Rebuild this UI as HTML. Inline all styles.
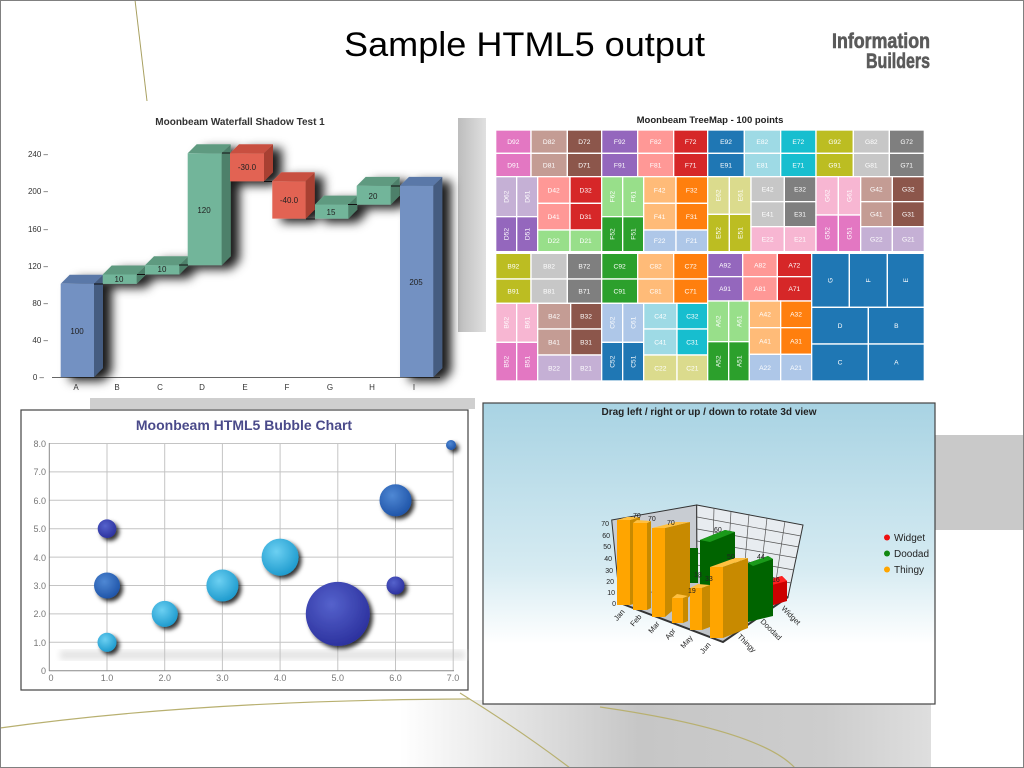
<!DOCTYPE html>
<html><head><meta charset="utf-8"><style>
html,body{margin:0;padding:0;background:#fff}
#s{position:relative;width:1024px;height:768px;overflow:hidden;font-family:"Liberation Sans",sans-serif;background:#fff}
svg{position:absolute;left:0;top:0}
</style></head><body><div id="s">
<svg width="1024" height="768" viewBox="0 0 1024 768">
<defs>
<linearGradient id="bot" x1="0" y1="0" x2="1" y2="0"><stop offset="0" stop-color="#fff"/><stop offset="0.45" stop-color="#c6c6c6"/><stop offset="0.8" stop-color="#cdcdcd"/><stop offset="1" stop-color="#dedede"/></linearGradient>
<linearGradient id="vg" x1="0" y1="0" x2="1" y2="0"><stop offset="0" stop-color="#bdbdbd"/><stop offset="1" stop-color="#e0e0e0"/></linearGradient>
<linearGradient id="sky" x1="0" y1="0" x2="0" y2="1"><stop offset="0" stop-color="#a8d3e3"/><stop offset="0.55" stop-color="#d6ebf2"/><stop offset="0.8" stop-color="#fff"/></linearGradient>
<filter id="sh" x="-40%" y="-40%" width="200%" height="200%"><feDropShadow dx="9" dy="4" stdDeviation="5" flood-color="#000" flood-opacity="0.9"/></filter>
<filter id="bs" x="-40%" y="-40%" width="200%" height="200%"><feDropShadow dx="3" dy="3" stdDeviation="2" flood-color="#000" flood-opacity="0.8"/></filter>
<filter id="bl"><feGaussianBlur stdDeviation="3"/></filter>
<radialGradient id="gl" cx="0.4" cy="0.35" r="0.7"><stop offset="0" stop-color="#6cd0f2"/><stop offset="1" stop-color="#1a98cc"/></radialGradient>
<radialGradient id="gm" cx="0.4" cy="0.35" r="0.7"><stop offset="0" stop-color="#4f88d4"/><stop offset="1" stop-color="#1d52a6"/></radialGradient>
<radialGradient id="gd" cx="0.4" cy="0.35" r="0.7"><stop offset="0" stop-color="#5562cc"/><stop offset="1" stop-color="#2a2f9c"/></radialGradient>
</defs>
<rect x="400" y="700" width="531" height="68" fill="url(#bot)"/>
<rect x="458" y="118" width="28" height="214" fill="url(#vg)"/>
<rect x="90" y="398" width="385" height="11" fill="#cfcfcf"/>
<rect x="935" y="435" width="89" height="95" fill="#c9c9c9"/>
<path d="M135 0 L147 101" stroke="#a8a060" stroke-width="1" fill="none"/>
<path d="M0 728 Q200 700 470 699" stroke="#b8b070" stroke-width="1.2" fill="none"/>
<path d="M460 693 Q520 730 570 768" stroke="#b8b070" stroke-width="1.2" fill="none"/>
<path d="M600 707 Q760 730 795 768" stroke="#b8b070" stroke-width="1.2" fill="none"/>
<rect x="0.5" y="0.5" width="1023" height="767" fill="none" stroke="#808080"/>
<text x="344" y="56" font-size="34" textLength="361" lengthAdjust="spacingAndGlyphs" fill="#000">Sample HTML5 output</text>
<text x="930" y="48" font-size="21" font-weight="bold" fill="#5a5a5a" stroke="#5a5a5a" stroke-width="0.6" text-anchor="end" textLength="98" lengthAdjust="spacingAndGlyphs">Information</text>
<text x="930" y="68" font-size="21" font-weight="bold" fill="#5a5a5a" stroke="#5a5a5a" stroke-width="0.6" text-anchor="end" textLength="64" lengthAdjust="spacingAndGlyphs">Builders</text>

<text x="240" y="125" font-size="10" font-weight="bold" text-anchor="middle" fill="#333">Moonbeam Waterfall Shadow Test 1</text>
<g font-size="8" fill="#333" text-anchor="end">
<text x="44" y="380">0 –</text><text x="48" y="343">40 –</text><text x="48" y="306">80 –</text><text x="48" y="269">120 –</text><text x="48" y="232">160 –</text><text x="48" y="194">200 –</text><text x="48" y="157">240 –</text>
</g>
<line x1="52" y1="377.5" x2="440" y2="377.5" stroke="#666"/>
<g filter="url(#sh)">
<polygon points="60.7,283.8 69.7,274.8 103,274.8 94,283.8" fill="#5a78a8"/><polygon points="94,283.8 103,274.8 103,368 94,377" fill="#445c80"/><rect x="60.7" y="283.8" width="33.3" height="93.2" fill="#7391c2"/>
<polygon points="102.7,274.5 111.7,265.5 145.7,265.5 136.7,274.5" fill="#5e9a80"/><polygon points="136.7,274.5 145.7,265.5 145.7,274.8 136.7,283.8" fill="#4e806a"/><rect x="102.7" y="274.5" width="34" height="9.3" fill="#72b59a"/>
<polygon points="145,265.2 154,256.2 188.3,256.2 179.3,265.2" fill="#5e9a80"/><polygon points="179.3,265.2 188.3,256.2 188.3,265.5 179.3,274.5" fill="#4e806a"/><rect x="145" y="265.2" width="34.3" height="9.3" fill="#72b59a"/>
<polygon points="187.7,153.3 196.7,144.3 230.7,144.3 221.7,153.3" fill="#5e9a80"/><polygon points="221.7,153.3 230.7,144.3 230.7,256.2 221.7,265.2" fill="#4e806a"/><rect x="187.7" y="153.3" width="34" height="111.9" fill="#72b59a"/>
<polygon points="230,153.3 239,144.3 273,144.3 264,153.3" fill="#c85040"/><polygon points="264,153.3 273,144.3 273,172.3 264,181.3" fill="#a84030"/><rect x="230" y="153.3" width="34" height="28" fill="#e26452"/>
<polygon points="272.3,181.3 281.3,172.3 314.7,172.3 305.7,181.3" fill="#c85040"/><polygon points="305.7,181.3 314.7,172.3 314.7,209.6 305.7,218.6" fill="#a84030"/><rect x="272.3" y="181.3" width="33.4" height="37.3" fill="#e26452"/>
<polygon points="315,204.6 324,195.6 357.3,195.6 348.3,204.6" fill="#5e9a80"/><polygon points="348.3,204.6 357.3,195.6 357.3,209.6 348.3,218.6" fill="#4e806a"/><rect x="315" y="204.6" width="33.3" height="14" fill="#72b59a"/>
<polygon points="356.7,185.9 365.7,176.9 399.7,176.9 390.7,185.9" fill="#5e9a80"/><polygon points="390.7,185.9 399.7,176.9 399.7,195.6 390.7,204.6" fill="#4e806a"/><rect x="356.7" y="185.9" width="34" height="18.7" fill="#72b59a"/>
<polygon points="400,185.9 409,176.9 442.3,176.9 433.3,185.9" fill="#5a78a8"/><polygon points="433.3,185.9 442.3,176.9 442.3,368 433.3,377" fill="#445c80"/><rect x="400" y="185.9" width="33.3" height="191.1" fill="#7391c2"/>
</g>
<g stroke="#111" stroke-width="1">
<line x1="94" y1="284" x2="103" y2="284"/><line x1="137" y1="274.5" x2="145" y2="274.5"/><line x1="179" y1="265" x2="188" y2="265"/><line x1="222" y1="153" x2="230" y2="153"/><line x1="264" y1="181.5" x2="272" y2="181.5"/><line x1="306" y1="219" x2="315" y2="219"/><line x1="348" y1="204.5" x2="357" y2="204.5"/><line x1="391" y1="186" x2="400" y2="186"/>
</g>
<g font-size="8" fill="#222" text-anchor="middle">
<text x="77" y="334">100</text><text x="119" y="282">10</text><text x="162" y="272">10</text><text x="204" y="213">120</text><text x="247" y="170">-30.0</text><text x="289" y="203">-40.0</text><text x="331" y="215">15</text><text x="373" y="199">20</text><text x="416" y="285">205</text>
</g>
<g font-size="8" fill="#333" text-anchor="middle">
<text x="76" y="390">A</text><text x="117" y="390">B</text><text x="160" y="390">C</text><text x="202" y="390">D</text><text x="245" y="390">E</text><text x="287" y="390">F</text><text x="330" y="390">G</text><text x="372" y="390">H</text><text x="414" y="390">I</text>
</g>

<rect x="21" y="410" width="447" height="280" fill="#fff" stroke="#444" stroke-width="1.2"/>
<text x="244" y="430" font-size="14" font-weight="bold" fill="#4a4a8a" text-anchor="middle">Moonbeam HTML5 Bubble Chart</text>
<rect x="60" y="650" width="405" height="10" fill="#e6e6e6" filter="url(#bl)"/>
<g stroke="#c4c4c4" stroke-width="1">
<line x1="107" y1="443" x2="107" y2="671"/><line x1="164.7" y1="443" x2="164.7" y2="671"/><line x1="222.4" y1="443" x2="222.4" y2="671"/><line x1="280.1" y1="443" x2="280.1" y2="671"/><line x1="337.8" y1="443" x2="337.8" y2="671"/><line x1="395.5" y1="443" x2="395.5" y2="671"/><line x1="453.2" y1="443" x2="453.2" y2="671"/>
<line x1="49" y1="443.5" x2="453" y2="443.5"/><line x1="49" y1="471.9" x2="453" y2="471.9"/><line x1="49" y1="500.3" x2="453" y2="500.3"/><line x1="49" y1="528.7" x2="453" y2="528.7"/><line x1="49" y1="557.1" x2="453" y2="557.1"/><line x1="49" y1="585.5" x2="453" y2="585.5"/><line x1="49" y1="613.9" x2="453" y2="613.9"/><line x1="49" y1="642.3" x2="453" y2="642.3"/>
</g>
<line x1="49.3" y1="443" x2="49.3" y2="671" stroke="#888"/><line x1="49" y1="670.7" x2="454" y2="670.7" stroke="#888"/>
<g font-size="9" fill="#777" text-anchor="end">
<text x="46" y="447">8.0</text><text x="46" y="475">7.0</text><text x="46" y="504">6.0</text><text x="46" y="532">5.0</text><text x="46" y="561">4.0</text><text x="46" y="589">3.0</text><text x="46" y="617">2.0</text><text x="46" y="646">1.0</text><text x="46" y="674">0</text>
</g>
<g font-size="9" fill="#777" text-anchor="middle">
<text x="51" y="681">0</text><text x="107" y="681">1.0</text><text x="164.7" y="681">2.0</text><text x="222.4" y="681">3.0</text><text x="280.1" y="681">4.0</text><text x="337.8" y="681">5.0</text><text x="395.5" y="681">6.0</text><text x="453" y="681">7.0</text>
</g>
<g filter="url(#bs)">
<circle cx="107" cy="528.7" r="9.3" fill="url(#gd)"/>
<circle cx="107" cy="585.5" r="13" fill="url(#gm)"/>
<circle cx="107" cy="642.3" r="9.5" fill="url(#gl)"/>
<circle cx="164.7" cy="613.9" r="13" fill="url(#gl)"/>
<circle cx="222.4" cy="585.5" r="16" fill="url(#gl)"/>
<circle cx="280.1" cy="557.1" r="18.5" fill="url(#gl)"/>
<circle cx="337.8" cy="613.9" r="32" fill="url(#gd)"/>
<circle cx="395.5" cy="500.3" r="16" fill="url(#gm)"/>
<circle cx="395.5" cy="585.5" r="9" fill="url(#gd)"/>
<circle cx="451" cy="445" r="5" fill="url(#gm)"/>
</g>

<rect x="483" y="403" width="452" height="301" fill="url(#sky)" stroke="#444" stroke-width="1.2"/>
<text x="709" y="415" font-size="10" font-weight="bold" fill="#222" text-anchor="middle">Drag left / right or up / down to rotate 3d view</text>
<polygon points="611.7,520 696.7,505 697,577 620,603" fill="#c8ccd2" stroke="#333"/>
<polygon points="696.7,505 803,525 788,597 697,577" fill="#e8ecf0" stroke="#333"/>
<g stroke="#555" stroke-width="0.7">
<line x1="697" y1="517" x2="801" y2="536"/><line x1="697" y1="529" x2="799" y2="547"/><line x1="697" y1="541" x2="797" y2="558"/><line x1="697" y1="553" x2="794" y2="570"/><line x1="697" y1="565" x2="791" y2="583"/>
<line x1="714" y1="508" x2="712" y2="580"/><line x1="731" y1="511" x2="727" y2="583"/><line x1="749" y1="514" x2="743" y2="586"/><line x1="767" y1="518" x2="759" y2="590"/><line x1="785" y1="521" x2="774" y2="594"/>
</g>
<polygon points="620,603 697,577 788,597 723,642" fill="#c0c4c8"/>
<polyline points="620,603 723,642 788,597" fill="none" stroke="#333" stroke-width="2"/>
<polygon points="690,548 698,548 698,583 690,583" fill="#006400"/>
<polygon points="700,540 725,530 735,532 735,583 700,590" fill="#006400"/><polygon points="700,540 725,530 735,532 710,542" fill="#1a9a1a"/>
<polygon points="767,580 782,576 787,581 787,601 767,607" fill="#cc0000"/><polygon points="767,580 782,576 787,581 772,585" fill="#ff2020"/>
<polygon points="748,563 768,556 773,559 773,616 748,622" fill="#006400"/><polygon points="748,563 768,556 773,559 753,566" fill="#1a9a1a"/>
<g>
<polygon points="630,520 640,517 640,602 630,605" fill="#c88a00"/><polygon points="617,520 627,517 640,517 630,520" fill="#ffc040"/><rect x="617" y="520" width="13" height="85" fill="#ffa500"/>
<polygon points="647,523 651,521 651,608 647,610" fill="#c88a00"/><polygon points="633,523 637,520 651,521 647,523" fill="#ffc040"/><rect x="633" y="523" width="14" height="87" fill="#ffa500"/>
<polygon points="665,528 690,522 690,596 665,617" fill="#c88a00"/><polygon points="652,528 676,522 690,522 665,528" fill="#ffc040"/><rect x="652" y="528" width="13" height="89" fill="#ffa500"/>
<polygon points="683,598 688,596 688,621 683,623" fill="#c88a00"/><polygon points="672,598 677,594 688,596 683,598" fill="#ffc040"/><rect x="672" y="598" width="11" height="25" fill="#ffa500"/>
<polygon points="702,588 710,585 710,627 702,630" fill="#c88a00"/><polygon points="690,588 698,584 710,585 702,588" fill="#ffc040"/><rect x="690" y="588" width="12" height="42" fill="#ffa500"/>
<polygon points="723,567 748,558 748,628 723,638" fill="#c88a00"/><polygon points="710,567 735,558 748,558 723,567" fill="#ffc040"/><rect x="710" y="567" width="13" height="71" fill="#ffa500"/>
</g>
<g font-size="7" fill="#222">
<text x="633" y="518">70</text><text x="648" y="521">70</text><text x="667" y="525">70</text><text x="714" y="532">60</text><text x="688" y="593">19</text><text x="705" y="581">33</text><text x="694" y="577">18</text><text x="727" y="559">50</text><text x="757" y="559">44</text><text x="772" y="582">16</text>
</g>
<g font-size="7" fill="#222" text-anchor="end">
<text x="609" y="526">70</text><text x="610" y="538">60</text><text x="611" y="549">50</text><text x="612" y="561">40</text><text x="613" y="573">30</text><text x="614" y="584">20</text><text x="615" y="595">10</text><text x="616" y="606">0</text>
</g>
<g font-size="7.5" fill="#222" text-anchor="end">
<text transform="translate(625,612) rotate(-50)">Jan</text><text transform="translate(642,617) rotate(-50)">Feb</text><text transform="translate(660,624) rotate(-50)">Mar</text><text transform="translate(676,631) rotate(-50)">Apr</text><text transform="translate(693,638) rotate(-50)">May</text><text transform="translate(711,645) rotate(-50)">Jun</text>
</g>
<g font-size="7.5" fill="#222">
<text transform="translate(737,637) rotate(45)">Thingy</text><text transform="translate(760,622) rotate(45)">Doodad</text><text transform="translate(781,609) rotate(45)">Widget</text>
</g>
<circle cx="887" cy="537.5" r="3" fill="#ee1111"/><circle cx="887" cy="553.5" r="3" fill="#118811"/><circle cx="887" cy="569.5" r="3" fill="#ffa500"/>
<g font-size="10" fill="#222"><text x="894" y="541">Widget</text><text x="894" y="557">Doodad</text><text x="894" y="573">Thingy</text></g>

<text x="710" y="123" font-size="9.5" font-weight="bold" fill="#222" text-anchor="middle">Moonbeam TreeMap - 100 points</text>
<svg x="485" y="105" width="450" height="285" viewBox="0 0 1350 855">
<g stroke="#fff" stroke-width="4">
<rect x="32" y="75" width="106" height="70" fill="#e377c2"/><rect x="138" y="75" width="109" height="70" fill="#c49c94"/><rect x="247" y="75" width="103" height="70" fill="#8c564b"/><rect x="350" y="75" width="108" height="70" fill="#9467bd"/><rect x="458" y="75" width="108" height="70" fill="#ff9896"/><rect x="566" y="75" width="102" height="70" fill="#d62728"/><rect x="668" y="75" width="110" height="70" fill="#1f77b4"/><rect x="778" y="75" width="109" height="70" fill="#9edae5"/><rect x="887" y="75" width="106" height="70" fill="#17becf"/><rect x="993" y="75" width="112" height="70" fill="#bcbd22"/><rect x="1105" y="75" width="108" height="70" fill="#c7c7c7"/><rect x="1213" y="75" width="105" height="70" fill="#7f7f7f"/>
<rect x="32" y="145" width="106" height="70" fill="#e377c2"/><rect x="138" y="145" width="109" height="70" fill="#c49c94"/><rect x="247" y="145" width="103" height="70" fill="#8c564b"/><rect x="350" y="145" width="108" height="70" fill="#9467bd"/><rect x="458" y="145" width="108" height="70" fill="#ff9896"/><rect x="566" y="145" width="102" height="70" fill="#d62728"/><rect x="668" y="145" width="110" height="70" fill="#1f77b4"/><rect x="778" y="145" width="109" height="70" fill="#9edae5"/><rect x="887" y="145" width="106" height="70" fill="#17becf"/><rect x="993" y="145" width="112" height="70" fill="#bcbd22"/><rect x="1105" y="145" width="108" height="70" fill="#c7c7c7"/><rect x="1213" y="145" width="105" height="70" fill="#7f7f7f"/>
<rect x="32" y="215" width="63" height="120" fill="#c5b0d5"/><rect x="95" y="215" width="63" height="120" fill="#c5b0d5"/><rect x="32" y="335" width="63" height="105" fill="#9467bd"/><rect x="95" y="335" width="63" height="105" fill="#9467bd"/>
<rect x="158" y="215" width="97" height="80" fill="#ff9896"/><rect x="255" y="215" width="95" height="80" fill="#d62728"/><rect x="158" y="295" width="97" height="80" fill="#ff9896"/><rect x="255" y="295" width="95" height="80" fill="#d62728"/><rect x="158" y="375" width="97" height="65" fill="#98df8a"/><rect x="255" y="375" width="95" height="65" fill="#98df8a"/>
<rect x="350" y="215" width="63" height="120" fill="#98df8a"/><rect x="413" y="215" width="63" height="120" fill="#98df8a"/><rect x="350" y="335" width="63" height="105" fill="#2ca02c"/><rect x="413" y="335" width="63" height="105" fill="#2ca02c"/>
<rect x="476" y="215" width="97" height="80" fill="#ffbb78"/><rect x="573" y="215" width="95" height="80" fill="#ff7f0e"/><rect x="476" y="295" width="97" height="80" fill="#ffbb78"/><rect x="573" y="295" width="95" height="80" fill="#ff7f0e"/><rect x="476" y="375" width="97" height="65" fill="#aec7e8"/><rect x="573" y="375" width="95" height="65" fill="#aec7e8"/>
<rect x="668" y="215" width="65" height="113" fill="#dbdb8d"/><rect x="733" y="215" width="65" height="113" fill="#dbdb8d"/><rect x="668" y="328" width="65" height="112" fill="#bcbd22"/><rect x="733" y="328" width="65" height="112" fill="#bcbd22"/>
<rect x="798" y="215" width="100" height="75" fill="#c7c7c7"/><rect x="898" y="215" width="95" height="75" fill="#7f7f7f"/><rect x="798" y="290" width="100" height="75" fill="#c7c7c7"/><rect x="898" y="290" width="95" height="75" fill="#7f7f7f"/><rect x="798" y="365" width="100" height="75" fill="#f7b6d2"/><rect x="898" y="365" width="95" height="75" fill="#f7b6d2"/>
<rect x="993" y="215" width="67" height="115" fill="#f7b6d2"/><rect x="1060" y="215" width="67" height="115" fill="#f7b6d2"/><rect x="993" y="330" width="67" height="110" fill="#e377c2"/><rect x="1060" y="330" width="67" height="110" fill="#e377c2"/>
<rect x="1127" y="215" width="95" height="75" fill="#c49c94"/><rect x="1222" y="215" width="96" height="75" fill="#8c564b"/><rect x="1127" y="290" width="95" height="75" fill="#c49c94"/><rect x="1222" y="290" width="96" height="75" fill="#8c564b"/><rect x="1127" y="365" width="95" height="75" fill="#c5b0d5"/><rect x="1222" y="365" width="96" height="75" fill="#c5b0d5"/>
<rect x="32" y="445" width="106" height="77" fill="#bcbd22"/><rect x="138" y="445" width="109" height="77" fill="#c7c7c7"/><rect x="247" y="445" width="103" height="77" fill="#7f7f7f"/><rect x="32" y="522" width="106" height="73" fill="#bcbd22"/><rect x="138" y="522" width="109" height="73" fill="#c7c7c7"/><rect x="247" y="522" width="103" height="73" fill="#7f7f7f"/>
<rect x="350" y="445" width="108" height="77" fill="#2ca02c"/><rect x="458" y="445" width="108" height="77" fill="#ffbb78"/><rect x="566" y="445" width="102" height="77" fill="#ff7f0e"/><rect x="350" y="522" width="108" height="73" fill="#2ca02c"/><rect x="458" y="522" width="108" height="73" fill="#ffbb78"/><rect x="566" y="522" width="102" height="73" fill="#ff7f0e"/>
<rect x="668" y="445" width="105" height="70" fill="#9467bd"/><rect x="773" y="445" width="104" height="70" fill="#ff9896"/><rect x="877" y="445" width="103" height="70" fill="#d62728"/><rect x="668" y="515" width="105" height="73" fill="#9467bd"/><rect x="773" y="515" width="104" height="73" fill="#ff9896"/><rect x="877" y="515" width="103" height="73" fill="#d62728"/>
<rect x="32" y="595" width="63" height="117" fill="#f7b6d2"/><rect x="95" y="595" width="63" height="117" fill="#f7b6d2"/><rect x="32" y="712" width="63" height="116" fill="#e377c2"/><rect x="95" y="712" width="63" height="116" fill="#e377c2"/>
<rect x="158" y="595" width="99" height="77" fill="#c49c94"/><rect x="257" y="595" width="93" height="77" fill="#8c564b"/><rect x="158" y="672" width="99" height="78" fill="#c49c94"/><rect x="257" y="672" width="93" height="78" fill="#8c564b"/><rect x="158" y="750" width="99" height="78" fill="#c5b0d5"/><rect x="257" y="750" width="93" height="78" fill="#c5b0d5"/>
<rect x="350" y="595" width="63" height="117" fill="#aec7e8"/><rect x="413" y="595" width="63" height="117" fill="#aec7e8"/><rect x="350" y="712" width="63" height="116" fill="#1f77b4"/><rect x="413" y="712" width="63" height="116" fill="#1f77b4"/>
<rect x="476" y="595" width="100" height="77" fill="#9edae5"/><rect x="576" y="595" width="92" height="77" fill="#17becf"/><rect x="476" y="672" width="100" height="78" fill="#9edae5"/><rect x="576" y="672" width="92" height="78" fill="#17becf"/><rect x="476" y="750" width="100" height="78" fill="#dbdb8d"/><rect x="576" y="750" width="92" height="78" fill="#dbdb8d"/>
<rect x="668" y="588" width="63" height="122" fill="#98df8a"/><rect x="731" y="588" width="62" height="122" fill="#98df8a"/><rect x="668" y="710" width="63" height="118" fill="#2ca02c"/><rect x="731" y="710" width="62" height="118" fill="#2ca02c"/>
<rect x="793" y="588" width="94" height="80" fill="#ffbb78"/><rect x="887" y="588" width="93" height="80" fill="#ff7f0e"/><rect x="793" y="668" width="94" height="80" fill="#ffbb78"/><rect x="887" y="668" width="93" height="80" fill="#ff7f0e"/><rect x="793" y="748" width="94" height="80" fill="#aec7e8"/><rect x="887" y="748" width="93" height="80" fill="#aec7e8"/>
<g fill="#1f77b4"><rect x="980" y="445" width="113" height="162"/><rect x="1093" y="445" width="114" height="162"/><rect x="1207" y="445" width="111" height="162"/><rect x="980" y="607" width="170" height="110"/><rect x="1150" y="607" width="168" height="110"/><rect x="980" y="717" width="170" height="111"/><rect x="1150" y="717" width="168" height="111"/></g>
</g>
<g fill="#fff" font-size="20" text-anchor="middle">
<text x="85" y="117">D92</text><text x="192" y="117">D82</text><text x="298" y="117">D72</text><text x="404" y="117">F92</text><text x="512" y="117">F82</text><text x="617" y="117">F72</text><text x="723" y="117">E92</text><text x="832" y="117">E82</text><text x="940" y="117">E72</text><text x="1049" y="117">G92</text><text x="1159" y="117">G82</text><text x="1265" y="117">G72</text>
<text x="85" y="187">D91</text><text x="192" y="187">D81</text><text x="298" y="187">D71</text><text x="404" y="187">F91</text><text x="512" y="187">F81</text><text x="617" y="187">F71</text><text x="723" y="187">E91</text><text x="832" y="187">E81</text><text x="940" y="187">E71</text><text x="1049" y="187">G91</text><text x="1159" y="187">G81</text><text x="1265" y="187">G71</text>
<text x="206" y="262">D42</text><text x="302" y="262">D32</text><text x="206" y="342">D41</text><text x="302" y="342">D31</text><text x="206" y="414">D22</text><text x="302" y="414">D21</text>
<text x="524" y="262">F42</text><text x="620" y="262">F32</text><text x="524" y="342">F41</text><text x="620" y="342">F31</text><text x="524" y="414">F22</text><text x="620" y="414">F21</text>
<text x="848" y="259">E42</text><text x="945" y="259">E32</text><text x="848" y="334">E41</text><text x="945" y="334">E31</text><text x="848" y="409">E22</text><text x="945" y="409">E21</text>
<text x="1174" y="259">G42</text><text x="1270" y="259">G32</text><text x="1174" y="334">G41</text><text x="1270" y="334">G31</text><text x="1174" y="409">G22</text><text x="1270" y="409">G21</text>
<text x="85" y="490">B92</text><text x="192" y="490">B82</text><text x="298" y="490">B72</text><text x="404" y="490">C92</text><text x="512" y="490">C82</text><text x="617" y="490">C72</text><text x="720" y="487">A92</text><text x="825" y="487">A82</text><text x="928" y="487">A72</text>
<text x="85" y="565">B91</text><text x="192" y="565">B81</text><text x="298" y="565">B71</text><text x="404" y="565">C91</text><text x="512" y="565">C81</text><text x="617" y="565">C71</text><text x="720" y="558">A91</text><text x="825" y="558">A81</text><text x="928" y="558">A71</text>
<text x="207" y="640">B42</text><text x="303" y="640">B32</text><text x="207" y="718">B41</text><text x="303" y="718">B31</text><text x="207" y="796">B22</text><text x="303" y="796">B21</text>
<text x="526" y="640">C42</text><text x="622" y="640">C32</text><text x="526" y="718">C41</text><text x="622" y="718">C31</text><text x="526" y="796">C22</text><text x="622" y="796">C21</text>
<text x="840" y="635">A42</text><text x="933" y="635">A32</text><text x="840" y="715">A41</text><text x="933" y="715">A31</text><text x="840" y="795">A22</text><text x="933" y="795">A21</text>
<text x="1065" y="669">D</text><text x="1234" y="669">B</text><text x="1065" y="779">C</text><text x="1234" y="779">A</text>
</g>
<g fill="#fff" font-size="20" text-anchor="middle">
<text transform="translate(70,275) rotate(-90)">D62</text><text transform="translate(133,275) rotate(-90)">D61</text><text transform="translate(70,387) rotate(-90)">D52</text><text transform="translate(133,387) rotate(-90)">D51</text>
<text transform="translate(388,275) rotate(-90)">F62</text><text transform="translate(451,275) rotate(-90)">F61</text><text transform="translate(388,387) rotate(-90)">F52</text><text transform="translate(451,387) rotate(-90)">F51</text>
<text transform="translate(707,271) rotate(-90)">E62</text><text transform="translate(772,271) rotate(-90)">E61</text><text transform="translate(707,384) rotate(-90)">E52</text><text transform="translate(772,384) rotate(-90)">E51</text>
<text transform="translate(1033,272) rotate(-90)">G62</text><text transform="translate(1100,272) rotate(-90)">G61</text><text transform="translate(1033,385) rotate(-90)">G52</text><text transform="translate(1100,385) rotate(-90)">G51</text>
<text transform="translate(70,653) rotate(-90)">B62</text><text transform="translate(133,653) rotate(-90)">B61</text><text transform="translate(70,770) rotate(-90)">B52</text><text transform="translate(133,770) rotate(-90)">B51</text>
<text transform="translate(388,653) rotate(-90)">C62</text><text transform="translate(451,653) rotate(-90)">C61</text><text transform="translate(388,770) rotate(-90)">C52</text><text transform="translate(451,770) rotate(-90)">C51</text>
<text transform="translate(706,649) rotate(-90)">A62</text><text transform="translate(769,649) rotate(-90)">A61</text><text transform="translate(706,769) rotate(-90)">A52</text><text transform="translate(769,769) rotate(-90)">A51</text>
<text transform="translate(1043,526) rotate(-90)">G</text><text transform="translate(1157,526) rotate(-90)">F</text><text transform="translate(1269,526) rotate(-90)">E</text>
</g>
</svg>
</svg>
</div></body></html>
